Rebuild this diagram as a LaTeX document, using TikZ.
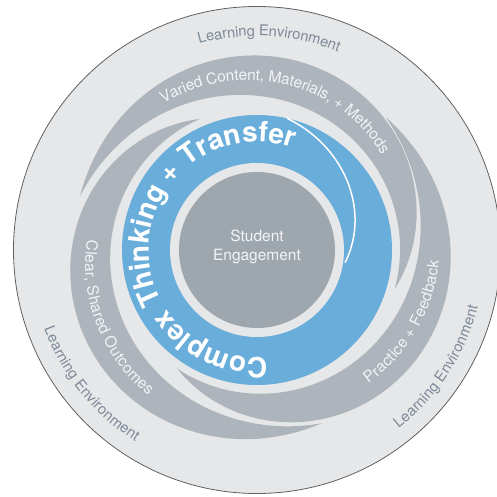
\documentclass[tikz,border=0pt]{standalone}
\usepackage{fontspec}
\usepackage{tikz}
\usetikzlibrary{decorations.text}
\newfontfamily\heros{TeX Gyre Heros}
\definecolor{envcolor}{HTML}{E6E7E8}
\definecolor{rimcolor}{HTML}{5F6062}
\definecolor{bandcolor}{HTML}{ADB4BC}
\definecolor{corecolor}{HTML}{9EA6AE}
\definecolor{ringcolor}{HTML}{69ADDB}
\definecolor{envtext}{HTML}{7E8999}
\definecolor{bandtext}{HTML}{F2F4F6}
\newcommand{\bandfont}{\heros\fontsize{15.5}{18}\selectfont}
\newcommand{\envfont}{\heros\fontsize{14.8}{17}\selectfont}
\newcommand{\ringfont}{\heros\bfseries\fontsize{28}{30}\selectfont}

\begin{document}
\begin{tikzpicture}[x=1pt, y=1pt, declare function={rin(\t)=143+42*\t*\t*sqrt(\t); wd(\t)=42*sin(180*\t); rmid(\t)=rin(\t)+wd(\t)/2;}]
	\tikzstyle{band}=[fill=bandcolor]
	\tikzstyle{bandlabel}=[decorate, decoration={text along path, text align=center, raise=-5pt, text color=bandtext}]
	\tikzstyle{envlabel}=[decorate, decoration={text along path, text align=center, raise=-5pt, text color=envtext}]
	\useasboundingbox (-257,-247) rectangle (240,250);
	\fill[envcolor, draw=rimcolor, line width=0.8pt] (0,0) circle[radius=243.5];
	% swirling bands
	\foreach \s/\sp in {-16/179, 236/170, 113.5/177}
		\fill[band] plot[domain=0:1, samples=60] ({\s+\sp*\x}:{rin(\x)}) -- plot[domain=0:1, samples=60] ({\s+\sp*(1-\x)}:{rin(1-\x)+wd(1-\x)}) -- cycle;
	% blue ring and core
	\fill[ringcolor] (0,0) circle[radius=135];
	\fill[envcolor] (0,0) circle[radius=87];
	\fill[corecolor] (0,0) circle[radius=78];
	\draw[white, line width=1.5pt, line cap=round] plot[domain=0:1, samples=40] ({77-85*\x}:{135-46*\x});
	\node[align=center, text=bandtext, font=\heros\fontsize{15.5}{19}\selectfont] (se) at (0,3) {Student\\Engagement};
	\path[decorate, decoration={text along path, text align=center, text color=white, text={|\ringfont|Complex Thinking + Transfer}}] (-7:108) arc[start angle=-7, end angle=-367, radius=108];
	% band labels
	\path[bandlabel, decoration={text={|\bandfont|Varied Content, Materials, + Methods}}] plot[domain=0:1, samples=50] ({-16+179*(0.86-0.66*\x)}:{rmid(0.86-0.66*\x)});
	\path[bandlabel, decoration={text={|\bandfont|Clear, Shared Outcomes}}] plot[domain=0:1, samples=50] ({113.5+177*(0.2+0.62*\x)}:{rmid(0.2+0.62*\x)});
	\path[bandlabel, decoration={text={|\bandfont|Practice + Feedback}}] plot[domain=0:1, samples=50] ({236+170*(0.25+0.63*\x)}:{rmid(0.25+0.63*\x)});
	% environment labels
	\path[envlabel, decoration={text={|\envfont|Learning Environment}}] (146.7:219) arc[start angle=146.7, end angle=26.7, radius=219];
	\path[envlabel, decoration={text={|\envfont|Learning Environment}}] (159:222) arc[start angle=159, end angle=279, radius=222];
	\path[envlabel, decoration={text={|\envfont|Learning Environment}}] (-93:223) arc[start angle=-93, end angle=27, radius=223];
\end{tikzpicture}
\end{document}
